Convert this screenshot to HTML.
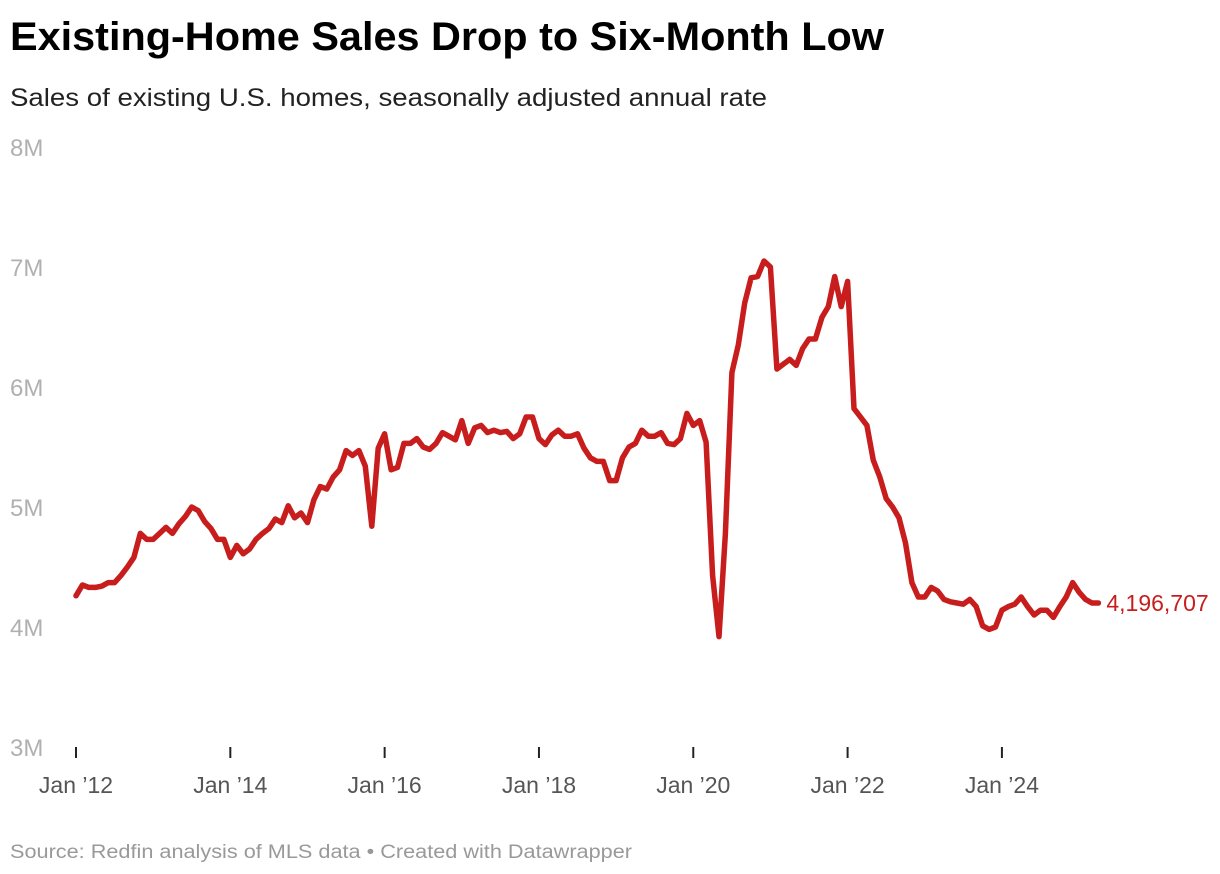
<!DOCTYPE html>
<html><head><meta charset="utf-8"><style>
html,body{margin:0;padding:0;background:#fff;width:1220px;height:874px;overflow:hidden}
svg{display:block;font-family:"Liberation Sans",sans-serif}
</style></head><body>
<svg id="chart" width="1220" height="874">
<text x="10" y="50" font-size="40" font-weight="bold" fill="#000" textLength="874" lengthAdjust="spacingAndGlyphs">Existing-Home Sales Drop to Six-Month Low</text>
<text x="10" y="106" font-size="25" fill="#222" textLength="757" lengthAdjust="spacingAndGlyphs">Sales of existing U.S. homes, seasonally adjusted annual rate</text>
<text x="10" y="858" font-size="19" fill="#999" textLength="622" lengthAdjust="spacingAndGlyphs">Source: Redfin analysis of MLS data • Created with Datawrapper</text>
<g id="yaxis"></g>
<g id="xaxis"></g>
<g id="series"></g>
</svg>
<script>
const yTicks=[3,4,5,6,7,8];
const yTickLabels=["3M","4M","5M","6M","7M","8M"];
const xTickMonths=[0,24,48,72,96,120,144];
const xTickLabels=["Jan \u201912","Jan \u201914","Jan \u201916","Jan \u201918","Jan \u201920","Jan \u201922","Jan \u201924"];
const sales=[4.26,4.35,4.33,4.33,4.34,4.37,4.37,4.43,4.5,4.58,4.78,4.73,4.73,4.78,4.83,4.78,4.86,4.92,5.0,4.97,4.88,4.82,4.73,4.73,
4.58,4.68,4.61,4.65,4.73,4.78,4.82,4.9,4.87,5.01,4.91,4.95,4.87,5.06,5.17,5.15,5.25,5.31,5.47,5.43,5.47,5.34,4.84,5.49,
5.61,5.31,5.33,5.53,5.53,5.57,5.5,5.48,5.53,5.62,5.59,5.56,5.72,5.53,5.66,5.68,5.62,5.64,5.62,5.63,5.57,5.61,5.75,5.75,
5.57,5.52,5.6,5.64,5.59,5.59,5.61,5.49,5.41,5.38,5.38,5.22,5.22,5.41,5.5,5.53,5.64,5.59,5.59,5.62,5.53,5.52,5.57,5.78,
5.68,5.72,5.54,4.43,3.92,4.78,6.12,6.35,6.7,6.91,6.92,7.05,7.0,6.15,6.19,6.23,6.18,6.32,6.4,6.4,6.58,6.67,6.92,6.67,
6.88,5.82,5.75,5.68,5.39,5.25,5.07,5.0,4.91,4.7,4.37,4.25,4.25,4.33,4.3,4.23,4.21,4.2,4.19,4.23,4.17,4.01,3.98,4.0,
4.14,4.17,4.19,4.25,4.17,4.1,4.14,4.14,4.08,4.17,4.25,4.37,4.29,4.23,4.2,4.2];
const lastLabel="4,196,707";
const NS="http://www.w3.org/2000/svg";
const X=m=>76+m*6.43;
const Y=v=>747-(v-3)*120;
function mk(tag,attrs,parent){const e=document.createElementNS(NS,tag);for(const k in attrs)e.setAttribute(k,attrs[k]);parent.appendChild(e);return e;}
const ya=document.getElementById('yaxis'),xa=document.getElementById('xaxis'),sg=document.getElementById('series');
yTicks.forEach((t,i)=>{
 const e=mk('text',{x:10,y:Y(t)+9,'font-size':24,fill:'#b0b0b0'},ya);
 
 
 e.textContent=yTickLabels[i];
});
xTickMonths.forEach((m,i)=>{
 const l=mk('line',{x1:X(m),x2:X(m),y1:747,y2:758,stroke:'#222','stroke-width':2},xa);
 
 
 const e=mk('text',{x:X(m),y:793,'font-size':23,fill:'#555','text-anchor':'middle'},xa);
 
 
 e.textContent=xTickLabels[i];
});
const d=sales.map((v,i)=>(i?'L':'M')+X(i).toFixed(1)+','+Y(v).toFixed(1)).join('');
const p=mk('path',{d:d,fill:'none',stroke:'#c71e1d','stroke-width':5.5,'stroke-linejoin':'round','stroke-linecap':'round'},sg);


const li=sales.length-1;
const t=mk('text',{x:X(li)+8,y:Y(sales[li])+8,'font-size':23,fill:'#c71e1d'},sg);


t.textContent=lastLabel;
</script>
</body></html>
